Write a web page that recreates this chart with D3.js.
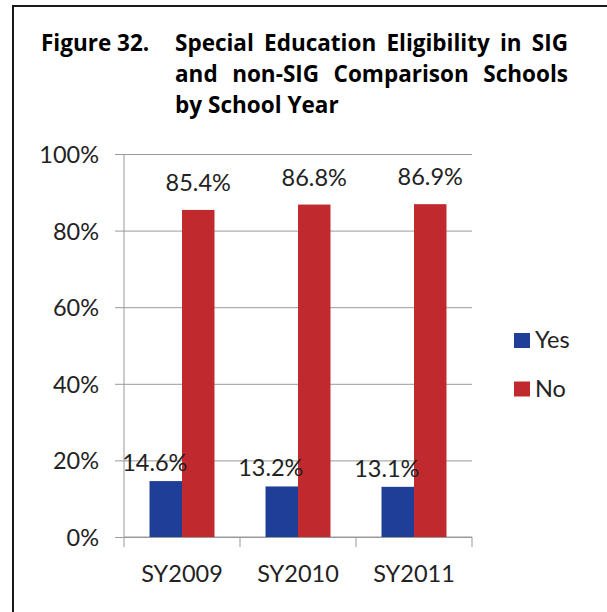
<!DOCTYPE html>
<html>
<head>
<meta charset="utf-8">
<script src="https://cdn.jsdelivr.net/npm/d3@7/dist/d3.min.js"></script>
<style>
  html, body { margin: 0; padding: 0; background: #fff; }
  svg { display: block; }
  text { font-family: Lato, "Open Sans", sans-serif; }
</style>
</head>
<body>
<script>
// ---- data ----
const categories = ["SY2009", "SY2010", "SY2011"];
const seriesNames = ["Yes", "No"];
const yesValues = [0.146, 0.132, 0.131];
const noValues = [0.854, 0.868, 0.869];
const yTicks = [0, 0.2, 0.4, 0.6, 0.8, 1.0];
const titleLabel = "Figure 32.";
const titleLines = ["Special Education Eligibility in SIG", "and non-SIG Comparison Schools", "by School Year"];
const colors = { Yes: "#1F3E97", No: "#C0292D" };

const W = 607, H = 612;
const FS = "23.5px";
const svg = d3.select("body").append("svg").attr("width", W).attr("height", H);

// frame
svg.append("rect").attr("x", 13).attr("y", 6).attr("width", 700).attr("height", 700)
  .attr("fill", "none").attr("stroke", "#1a1a1a").attr("stroke-width", 2);

// title
const titleFont = "'Open Sans', Lato, sans-serif";
const TFS = "22.5px";
svg.append("text").attr("x", 41).attr("y", 51).style("font-family", titleFont).style("font-weight", "bold")
  .style("font-size", TFS).attr("fill", "#000").text(titleLabel);
const tx0 = 175, tx1 = 568, lh = 31;
titleLines.forEach((line, li) => {
  const words = line.split(" ");
  const yy = 51 + li * lh;
  const g = svg.append("g");
  const nodes = words.map(w => g.append("text").attr("y", yy).style("font-family", titleFont)
    .style("font-weight", "bold").style("font-size", TFS).attr("fill", "#000").text(w));
  const widths = nodes.map(n => n.node().getComputedTextLength());
  const total = d3.sum(widths);
  const justify = li < titleLines.length - 1;
  const gap = justify ? (tx1 - tx0 - total) / (words.length - 1) : 6;
  let xx = tx0;
  nodes.forEach((n, i) => { n.attr("x", xx); xx += widths[i] + gap; });
});

// scales
const y = d3.scaleLinear().domain([0, 1]).range([537, 154]);
const x = d3.scaleBand().domain(categories).range([124, 472]).paddingInner(0.44).paddingOuter(0.22);
const xs = d3.scaleBand().domain(seriesNames).range([0, x.bandwidth()]);
const gridColor = "#9a9a9a";

// gridlines + y labels
const yAxis = d3.axisLeft(y).tickValues(yTicks).tickFormat(d3.format(".0%"))
  .tickSize(-(472 - 124)).tickPadding(0);
const gy = svg.append("g").attr("transform", "translate(124,0)").call(yAxis);
gy.select(".domain").remove();
gy.selectAll(".tick line").attr("stroke", gridColor).attr("x1", -9);
gy.selectAll(".tick text").attr("x", -25).attr("dy", "0.36em")
  .style("font-size", FS).style("font-family", "Lato").attr("fill", "#222");

// y axis line
svg.append("line").attr("x1", 124).attr("x2", 124).attr("y1", y(1)).attr("y2", y(0))
  .attr("stroke", gridColor);

// x axis
const xAxis = d3.axisBottom(x).tickSize(0).tickPadding(0);
const gx = svg.append("g").attr("transform", `translate(0,${y(0)})`).call(xAxis);
gx.select(".domain").attr("stroke", gridColor).attr("d", `M124,0H472`);
gx.selectAll(".tick text").attr("y", 45).attr("dy", 0)
  .style("font-size", FS).style("font-family", "Lato").attr("fill", "#222");
const step = x.step();
const bounds = [124].concat(categories.map((c, i) => 124 + step * (i + 1)));
gx.selectAll("line.cat").data(bounds).enter().append("line").attr("class", "cat")
  .attr("x1", d => d).attr("x2", d => d).attr("y1", 0).attr("y2", 10).attr("stroke", gridColor);

// bars
const rows = categories.map((c, i) => ({ cat: c, Yes: yesValues[i], No: noValues[i] }));
const groups = svg.append("g").selectAll("g").data(rows).enter().append("g")
  .attr("transform", d => `translate(${x(d.cat)},0)`);
groups.selectAll("rect").data(d => seriesNames.map(s => ({ s, v: d[s] }))).enter().append("rect")
  .attr("x", d => xs(d.s)).attr("width", xs.bandwidth())
  .attr("y", d => y(d.v)).attr("height", d => y(0) - y(d.v))
  .attr("fill", d => colors[d.s]);

// labels
const fmt = d3.format(".1%");
groups.append("text").attr("x", xs("No") + xs.bandwidth() / 2).attr("y", d => y(d.No) - 19)
  .attr("text-anchor", "middle").style("font-size", FS).attr("fill", "#222").text(d => fmt(d.No));
groups.append("text").attr("x", xs("Yes") + xs.bandwidth() / 2 - 11).attr("y", d => y(d.Yes) - 10)
  .attr("text-anchor", "middle").style("font-size", FS).attr("fill", "#222").text(d => fmt(d.Yes));

// legend
const leg = svg.append("g");
seriesNames.forEach((s, i) => {
  const ly = 333 + i * 48.5;
  leg.append("rect").attr("x", 514).attr("y", ly).attr("width", 16).attr("height", 15).attr("fill", colors[s]);
  leg.append("text").attr("x", 535).attr("y", ly + 15).style("font-size", FS).attr("fill", "#222").text(s);
});
</script>
</body>
</html>
